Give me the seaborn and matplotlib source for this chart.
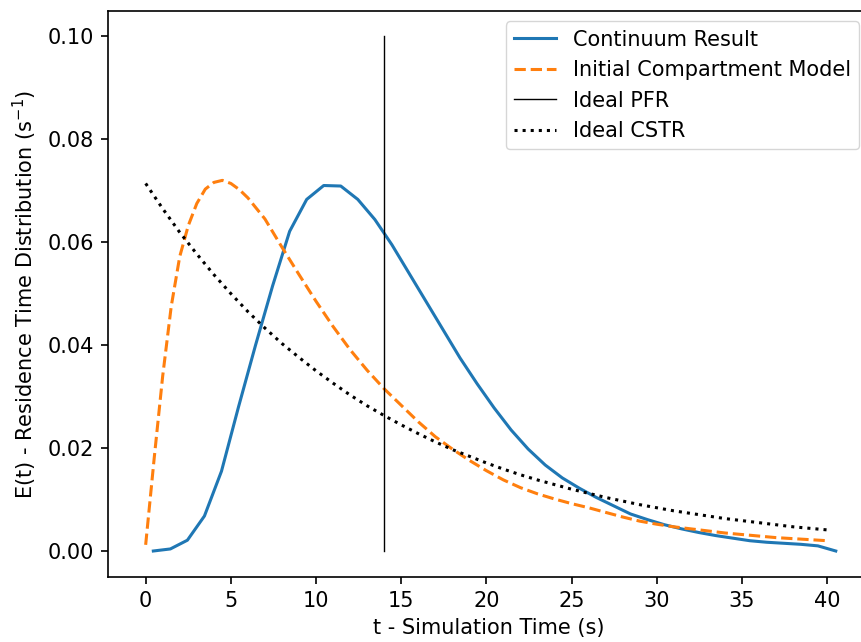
import matplotlib
matplotlib.use("Agg")
import matplotlib.pyplot as plt
import seaborn as sns

# Continuum (CFD) residence time distribution
continuum_t = [0.45, 1.45, 2.45, 3.45, 4.45, 5.45, 6.45, 7.45, 8.45, 9.45, 10.45, 11.45,
               12.45, 13.45, 14.45, 15.45, 16.45, 17.45, 18.45, 19.45, 20.45, 21.45,
               22.45, 23.45, 24.45, 25.45, 26.45, 27.45, 28.45, 29.45, 30.45, 31.45,
               32.45, 33.45, 34.45, 35.45, 36.45, 37.45, 38.45, 39.45, 40.5]
continuum_E = [0.0000, 0.0004, 0.0021, 0.0068, 0.0155, 0.0280, 0.0400, 0.0515, 0.0621,
               0.0683, 0.0710, 0.0709, 0.0683, 0.0644, 0.0595, 0.0540, 0.0485, 0.0430,
               0.0375, 0.0325, 0.0278, 0.0235, 0.0198, 0.0167, 0.0142, 0.0122, 0.0104,
               0.0088, 0.0072, 0.0061, 0.0051, 0.0043, 0.0036, 0.0030, 0.0025, 0.0020,
               0.0017, 0.0015, 0.0013, 0.0010, 0.0000]

# Initial compartment model
compartment_t = [0, 0.5, 1, 1.5, 2, 2.5, 3, 3.5, 4, 4.5, 5, 5.5, 6, 7, 8, 9, 10, 11,
                 12, 13, 14, 15, 16, 17, 18, 19, 20, 21, 22, 23, 24, 25, 26, 27, 28,
                 29, 30, 31, 32, 33, 34, 35, 36, 37, 38, 39, 40]
compartment_E = [0.0012, 0.0180, 0.0340, 0.0475, 0.0572, 0.0632, 0.0675, 0.0703, 0.0716,
                 0.0720, 0.0714, 0.0702, 0.0686, 0.0645, 0.0590, 0.0537, 0.0485, 0.0436,
                 0.0391, 0.0351, 0.0315, 0.0283, 0.0251, 0.0222, 0.0198, 0.0176, 0.0156,
                 0.0138, 0.0123, 0.0111, 0.0101, 0.0092, 0.0084, 0.0075, 0.0066, 0.0058,
                 0.0052, 0.0047, 0.0043, 0.0039, 0.0035, 0.0032, 0.0029, 0.0026, 0.0024,
                 0.0022, 0.0020]

# Ideal plug flow reactor: a spike at the mean residence time
pfr_t = [14.0, 14.0]
pfr_E = [0.0, 0.1]

# Ideal CSTR
cstr_t = list(range(0, 41))
cstr_E = [0.0714, 0.0665, 0.0619, 0.0577, 0.0537, 0.0500, 0.0465, 0.0433, 0.0403, 0.0376,
          0.0350, 0.0326, 0.0303, 0.0282, 0.0263, 0.0245, 0.0228, 0.0212, 0.0197, 0.0184,
          0.0171, 0.0159, 0.0148, 0.0138, 0.0129, 0.0120, 0.0112, 0.0104, 0.0097, 0.0090,
          0.0084, 0.0078, 0.0073, 0.0068, 0.0063, 0.0059, 0.0055, 0.0051, 0.0047, 0.0044,
          0.0041]

FS = 15

fig = plt.figure(figsize=(8.61, 6.42), dpi=100)
# axes run slightly past the right edge of the canvas
ax = fig.add_axes([108 / 861, 1 - 577 / 642, 761.5 / 861, 566 / 642])

sns.lineplot(x=continuum_t, y=continuum_E, ax=ax, color="#1f77b4", lw=2.2,
             estimator=None, sort=False, label="Continuum Result")
sns.lineplot(x=compartment_t, y=compartment_E, ax=ax, color="#ff7f0e", lw=2.2,
             linestyle="--", estimator=None, sort=False, label="Initial Compartment Model")
sns.lineplot(x=pfr_t, y=pfr_E, ax=ax, color="black", lw=1.0,
             estimator=None, sort=False, label="Ideal PFR")
sns.lineplot(x=cstr_t, y=cstr_E, ax=ax, color="black", lw=2.2, linestyle=":",
             estimator=None, sort=False, label="Ideal CSTR")

for s in ax.spines.values():
    s.set_linewidth(1.2)
    s.set_color("black")

ax.set_xlim(-2.21, 42.48)
ax.set_ylim(-0.00505, 0.1049)
ax.set_xticks([0, 5, 10, 15, 20, 25, 30, 35, 40])
ax.set_yticks([0.00, 0.02, 0.04, 0.06, 0.08, 0.10])
ax.yaxis.set_major_formatter(matplotlib.ticker.FormatStrFormatter("%.2f"))
ax.tick_params(labelsize=FS, length=5.2, width=1.2, pad=5, direction="out",
               colors="black")

ax.set_xlabel("t - Simulation Time (s)", fontsize=FS, labelpad=5)
ax.set_ylabel("E(t) - Residence Time Distribution (s$^{-1}$)", fontsize=FS, labelpad=6)

leg = ax.legend(loc="upper right", fontsize=FS, framealpha=0.8, edgecolor="#cccccc",
                fancybox=True, handlelength=2.0, borderpad=0.4, labelspacing=0.5)
leg.get_frame().set_linewidth(1.0)

fig.savefig("out.png", dpi=100)
